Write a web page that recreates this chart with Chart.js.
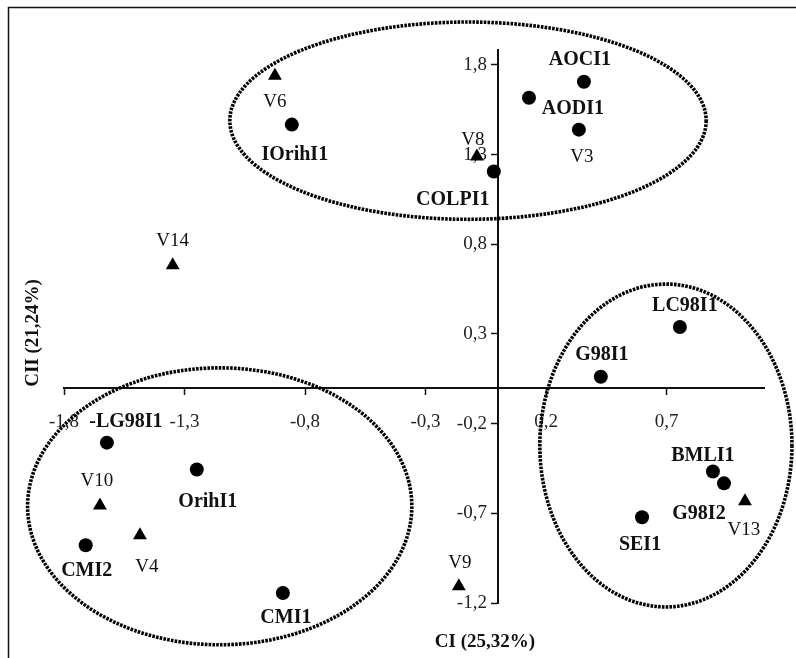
<!DOCTYPE html>
<html>
<head>
<meta charset="utf-8">
<script src="https://cdn.jsdelivr.net/npm/chart.js@4/dist/chart.umd.min.js"></script>
<style>
  html, body { margin: 0; padding: 0; background: #fff; }
  #wrap { width: 796px; height: 658px; position: relative; }
</style>
</head>
<body>
<div id="wrap"><canvas id="pca"></canvas></div>
<script>
// Individuals (circles) on the CI / CII plane
const circleNames = ['AOCI1', 'AODI1', 'V3', 'COLPI1', 'IOrihI1', 'LC98I1', 'G98I1', 'BMLI1', 'G98I2', 'SEI1', '-LG98I1', 'OrihI1', 'CMI2', 'CMI1'];
const circleX = [0.357, 0.129, 0.336, -0.017, -0.855, 0.755, 0.427, 0.892, 0.938, 0.598, -1.622, -1.249, -1.710, -0.892];
const circleY = [1.706, 1.617, 1.439, 1.206, 1.467, 0.339, 0.061, -0.467, -0.533, -0.722, -0.306, -0.456, -0.878, -1.144];

// Variables (triangles)
const triangleNames = ['V6', 'V8', 'V14', 'V13', 'V9', 'V10', 'V4'];
const triangleX = [-0.925, -0.087, -1.349, 1.025, -0.162, -1.651, -1.485];
const triangleY = [1.739, 1.289, 0.683, -0.633, -1.106, -0.656, -0.822];

// Group ellipses: centre and radii in data units
const ellipseCX = [-0.124, -1.154, 0.697];
const ellipseCY = [1.489, -0.661, -0.322];
const ellipseRX = [0.988, 0.797, 0.523];
const ellipseRY = [0.55, 0.772, 0.9];

const xTicks = [-1.8, -1.3, -0.8, -0.3, 0.2, 0.7];
const yTicks = [-1.2, -0.7, -0.2, 0.3, 0.8, 1.3, 1.8];

// label offsets in pixels (dx, dy from the mark)
const circleLabelOffsets = [[-4, -22], [44, 11], [3, 27], [-41, 28], [3, 30], [5, -21], [1, -22], [-10, -16], [-25, 30], [-2, 28], [19, -21], [11, 32], [1, 26], [3, 25]];
const triangleLabelOffsets = [[0, 26], [-4, -17], [0, -24], [-1, 29], [1, -23], [-3, -24], [7, 32]];

const SERIF = '"Liberation Serif", "DejaVu Serif", serif';
const fmt = v => v.toFixed(1).replace('.', ',');

const decorPlugin = {
  id: 'decor',
  beforeDraw(chart) {
    const ctx = chart.ctx;
    ctx.save();
    ctx.strokeStyle = '#111';
    ctx.lineWidth = 1.5;
    ctx.beginPath();
    ctx.moveTo(8.5, 658);
    ctx.lineTo(8.5, 7.5);
    ctx.lineTo(796, 7.5);
    ctx.stroke();
    ctx.restore();
  },
  beforeDatasetsDraw(chart) {
    const ctx = chart.ctx;
    const xs = chart.scales.x;
    const ys = chart.scales.y;
    ctx.save();

    // y tick labels, right aligned left of the axis
    ctx.fillStyle = '#222';
    ctx.font = '19px ' + SERIF;
    ctx.textAlign = 'right';
    ctx.textBaseline = 'middle';
    const axisX = xs.getPixelForValue(0);
    yTicks.forEach(v => {
      ctx.fillText(fmt(v), axisX - 11, ys.getPixelForValue(v));
    });

    // dotted group ellipses
    ctx.strokeStyle = '#000';
    ctx.lineWidth = 3.6;
    ctx.setLineDash([2.6, 1.2]);
    ellipseCX.forEach((cx, i) => {
      const px = xs.getPixelForValue(cx);
      const py = ys.getPixelForValue(ellipseCY[i]);
      const rx = Math.abs(xs.getPixelForValue(cx + ellipseRX[i]) - px);
      const ry = Math.abs(ys.getPixelForValue(ellipseCY[i] + ellipseRY[i]) - py);
      ctx.beginPath();
      ctx.ellipse(px, py, rx, ry, 0, 0, Math.PI * 2);
      ctx.stroke();
    });
    ctx.restore();
  },
  afterDraw(chart) {
    const ctx = chart.ctx;
    ctx.save();
    ctx.fillStyle = '#111';
    ctx.textAlign = 'center';
    ctx.textBaseline = 'middle';

    const drawLabels = (dsIndex, names, offsets) => {
      const meta = chart.getDatasetMeta(dsIndex);
      meta.data.forEach((pt, i) => {
        const bold = !/^V\d/.test(names[i]);
        ctx.font = bold ? 'bold 20px ' + SERIF : '19px ' + SERIF;
        ctx.fillText(names[i], pt.x + offsets[i][0], pt.y + offsets[i][1]);
      });
    };
    drawLabels(0, circleNames, circleLabelOffsets);
    drawLabels(1, triangleNames, triangleLabelOffsets);

    // axis titles
    ctx.font = 'bold 19px ' + SERIF;
    ctx.fillText('CI (25,32%)', 485, 642);
    ctx.translate(33, 333);
    ctx.rotate(-Math.PI / 2);
    ctx.fillText('CII (21,24%)', 0, 0);
    ctx.restore();
  }
};

new Chart(document.getElementById('pca'), {
  type: 'scatter',
  data: {
    datasets: [
      {
        label: 'Individus',
        data: circleX.map((x, i) => ({ x: x, y: circleY[i] })),
        pointStyle: 'circle',
        pointRadius: 7,
        backgroundColor: '#000',
        borderColor: '#000',
        borderWidth: 0
      },
      {
        label: 'Variables',
        data: triangleX.map((x, i) => ({ x: x, y: triangleY[i] })),
        pointStyle: 'triangle',
        pointRadius: 8,
        backgroundColor: '#000',
        borderColor: '#000',
        borderWidth: 0
      }
    ]
  },
  options: {
    responsive: true,
    maintainAspectRatio: false,
    animation: false,
    layout: { padding: { left: 64, top: 50, right: 32, bottom: 55 } },
    plugins: {
      legend: { display: false },
      tooltip: { enabled: false }
    },
    scales: {
      x: {
        type: 'linear',
        position: { y: 0 },
        min: -1.8,
        max: 1.104,
        afterBuildTicks: scale => { scale.ticks = xTicks.map(v => ({ value: v })); },
        grid: { drawOnChartArea: false, drawTicks: true, tickLength: 6, color: '#111', tickWidth: 1.5 },
        border: { display: true, color: '#111', width: 2 },
        ticks: {
          padding: 17,
          color: '#222',
          font: { family: SERIF, size: 19 },
          maxRotation: 0,
          autoSkip: false,
          callback: v => fmt(v)
        }
      },
      y: {
        type: 'linear',
        position: { x: 0 },
        min: -1.2,
        max: 1.883,
        afterBuildTicks: scale => { scale.ticks = yTicks.map(v => ({ value: v })); },
        grid: { drawOnChartArea: false, drawTicks: true, tickLength: 6, color: '#111', tickWidth: 1.5 },
        border: { display: true, color: '#111', width: 2 },
        ticks: {
          display: false,
          autoSkip: false
        }
      }
    }
  },
  plugins: [decorPlugin]
});
</script>
</body>
</html>
